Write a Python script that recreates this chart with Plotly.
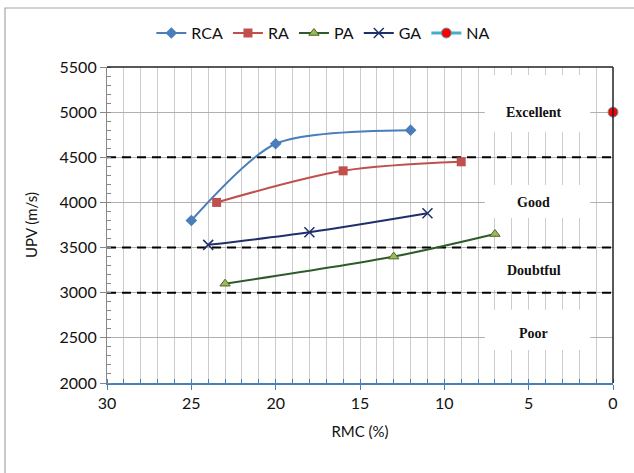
import plotly.graph_objects as go

# ---- data ----
rca_x = [25, 20, 12]
rca_y = [3800, 4650, 4800]
ra_x = [23.5, 16, 9]
ra_y = [4000, 4350, 4450]
pa_x = [23, 13, 7]
pa_y = [3100, 3400, 3650]
ga_x = [24, 18, 11]
ga_y = [3530, 3670, 3880]
na_x = [0]
na_y = [5000]

thresholds = [4500, 3500, 3000]
class_labels = ["Excellent", "Good", "Doubtful", "Poor"]
class_y = [5000, 4000, 3250, 2550]
x_ticks = [30, 25, 20, 15, 10, 5, 0]
y_ticks = [2000, 2500, 3000, 3500, 4000, 4500, 5000, 5500]

fig = go.Figure()

# dashed threshold lines
for t in thresholds:
    fig.add_trace(go.Scatter(x=[30, 0], y=[t, t], mode="lines",
                             line=dict(color="black", width=2, dash="9px,6px"),
                             showlegend=False, hoverinfo="skip", cliponaxis=False))

fig.add_trace(go.Scatter(x=rca_x, y=rca_y, name="RCA", mode="lines+markers",
                         line=dict(color="#4a7ebb", width=2, shape="spline", smoothing=0.75),
                         marker=dict(symbol="diamond", size=9, color="#4a7ebb")))
fig.add_trace(go.Scatter(x=ra_x, y=ra_y, name="RA", mode="lines+markers",
                         line=dict(color="#c0504d", width=2, shape="spline", smoothing=0.9),
                         marker=dict(symbol="square", size=9, color="#c0504d")))
fig.add_trace(go.Scatter(x=pa_x, y=pa_y, name="PA", mode="lines+markers",
                         line=dict(color="#2f5a2a", width=2, shape="spline", smoothing=0.9),
                         marker=dict(symbol="triangle-up", size=9, color="#9bbb59",
                                     line=dict(color="#4f6228", width=1))))
fig.add_trace(go.Scatter(x=ga_x, y=ga_y, name="GA", mode="lines+markers",
                         line=dict(color="#1f2f6b", width=2, shape="spline", smoothing=0.9),
                         marker=dict(symbol="x-thin", size=10,
                                     line=dict(color="#1f2f6b", width=1.5))))
fig.add_trace(go.Scatter(x=na_x, y=na_y, name="NA", mode="lines+markers",
                         line=dict(color="#4bacc6", width=3),
                         marker=dict(symbol="circle", size=10, color="red",
                                     line=dict(color="#4bacc6", width=1)),
                         cliponaxis=False))

# white label boxes (data coordinates)
boxes = [(7.6, 1.35, 5411, 4780), (7.6, 1.35, 4193, 3828),
         (7.6, 1.35, 3473, 3030), (7.6, 1.35, 2810, 2366)]
shapes = []
for x0, x1, y0, y1 in boxes:
    shapes.append(dict(type="rect", xref="x", yref="y", x0=x0, x1=x1, y0=y0, y1=y1,
                       fillcolor="white", line=dict(width=0), layer="above"))
# plot area top/right borders
shapes.append(dict(type="line", xref="paper", yref="paper", x0=0, x1=1, y0=1, y1=1,
                   line=dict(color="#222", width=1.5)))
shapes.append(dict(type="line", xref="paper", yref="paper", x0=1, x1=1, y0=0, y1=1,
                   line=dict(color="#222", width=1.5)))
# chart outer border
shapes.append(dict(type="rect", xref="paper", yref="paper",
                   x0=-107/506 + 5/506, x1=1.2, y0=1 + (67 - 8) / 316, y1=-1,
                   line=dict(color="#a6a6a6", width=1.2), fillcolor="rgba(0,0,0,0)"))

annotations = []
for lbl, yy in zip(class_labels, class_y):
    annotations.append(dict(x=4.7, y=yy, xref="x", yref="y", text="<b>%s</b>" % lbl,
                            showarrow=False,
                            font=dict(family="Liberation Serif", size=14, color="#111")))

fig.update_layout(
    width=634, height=473,
    margin=dict(l=107, r=21, t=67, b=90, autoexpand=False),
    paper_bgcolor="white", plot_bgcolor="white",
    font=dict(family="Lato", size=16, color="#111"),
    shapes=shapes, annotations=annotations,
    legend=dict(orientation="h", xref="container", yref="container",
                x=0.51, xanchor="center", y=0.93, yanchor="middle",
                font=dict(family="Lato", size=16), itemwidth=30, traceorder="normal"),
    xaxis=dict(range=[30, 0], tickvals=x_ticks, showgrid=True, gridcolor="#cccccc",
               gridwidth=1, showline=True, linecolor="#4a7ebb", linewidth=1.5,
               ticks="outside", ticklen=5, tickcolor="#4a7ebb",
               minor=dict(dtick=1, showgrid=True, gridcolor="#cccccc", ticks="inside",
                          ticklen=4, tickcolor="#4a7ebb"),
               zeroline=False, automargin=False,
               title=dict(text="RMC (%)", font=dict(size=15), standoff=16)),
    yaxis=dict(range=[2000, 5500], tickvals=y_ticks, showgrid=True, gridcolor="#b0b0b0",
               gridwidth=1.2, showline=True, linecolor="#888", linewidth=1.2,
               ticks="outside", ticklen=6, tickcolor="#888",
               minor=dict(dtick=100, ticks="inside", ticklen=4, tickcolor="#888",
                          showgrid=False),
               zeroline=False, automargin=False,
               title=dict(text="UPV (m/s)", font=dict(size=15), standoff=18)),
)

fig.write_html("out.html")
